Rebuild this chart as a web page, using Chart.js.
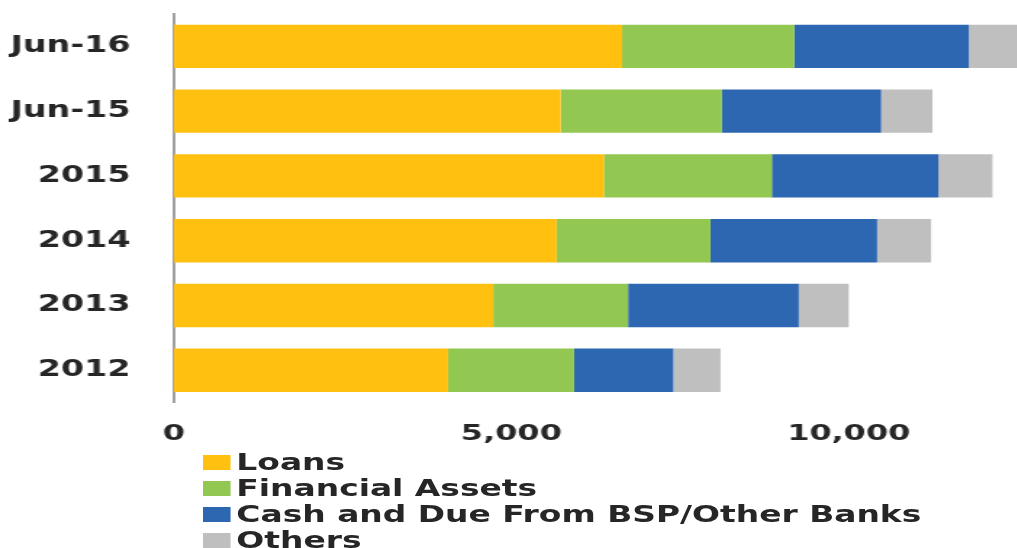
<!DOCTYPE html>
<html>
<head>
<meta charset="utf-8">
<script src="https://cdn.jsdelivr.net/npm/chart.js@4.4.0/dist/chart.umd.min.js"></script>
<style>
  html, body { margin: 0; padding: 0; background: #fff; overflow: hidden; }
  #frame { width: 1017px; height: 548px; overflow: hidden; position: relative; }
  /* the source picture is stretched sideways, so the whole chart is too */
  #stretch { position: absolute; left: 0; top: 0; width: 818px; transform: scaleX(1.45); transform-origin: 0 0; }
  #myChart { display: block; }
  #legend { position: absolute; left: 140px; top: 449px; font: bold 22.7px "DejaVu Sans"; color: #262626; }
  .item { height: 26px; display: flex; align-items: center; white-space: nowrap; }
  .swatch { width: 19px; height: 15px; margin-right: 4px; flex: none; }
</style>
</head>
<body>
<div id="frame">
  <div id="stretch">
    <canvas id="myChart" width="818" height="469" style="width:818px;height:469px"></canvas>
    <div id="legend"></div>
  </div>
</div>
<script>
const categories = ["Jun-16", "Jun-15", "2015", "2014", "2013", "2012"];
const loans = [6640, 5730, 6370, 5670, 4730, 4060];
const financialAssets = [2550, 2390, 2490, 2280, 2000, 1870];
const cashAndDue = [2590, 2360, 2470, 2470, 2530, 1470];
const others = [800, 760, 800, 800, 740, 700];
const xTicks = [0, 5000, 10000, 15000];

const seriesNames = ["Loans", "Financial Assets", "Cash and Due From BSP/Other Banks", "Others"];
const seriesColors = ["#FFC010", "#92C852", "#2E67B1", "#BFBFBF"];

const myChart = document.getElementById("myChart");
const legendBox = document.getElementById("legend");

const datasets = [loans, financialAssets, cashAndDue, others].map((data, i) => ({
  label: seriesNames[i],
  data,
  backgroundColor: seriesColors[i],
  borderWidth: 0,
  barPercentage: 1,
  categoryPercentage: 0.67,
}));

const chart = new Chart(myChart, {
  type: "bar",
  data: { labels: categories, datasets },
  options: {
    indexAxis: "y",
    responsive: false,
    animation: false,
    layout: { padding: { top: 14, bottom: 4, left: 0, right: 0 } },
    plugins: { legend: { display: false }, tooltip: { enabled: false } },
    scales: {
      x: {
        stacked: true,
        min: 0,
        max: 15000,
        afterBuildTicks: (scale) => { scale.ticks = xTicks.map((v) => ({ value: v })); },
        afterFit: (scale) => { scale.paddingLeft = 0; scale.paddingRight = 0; },
        grid: { display: false, drawTicks: false },
        border: { display: false },
        ticks: {
          padding: 18,
          color: "#262626",
          font: { family: "DejaVu Sans", weight: "bold", size: 22 },
          maxRotation: 0,
          callback: (v) => Number(v).toLocaleString("en-US"),
        },
      },
      y: {
        stacked: true,
        afterFit: (scale) => { scale.width = 120; scale.paddingTop = 0; scale.paddingBottom = 0; },
        grid: { display: false, drawTicks: false },
        border: { display: true, color: "#A0A0A0", width: 2 },
        ticks: { padding: 30, color: "#262626", font: { family: "DejaVu Sans", weight: "bold", size: 23 } },
      },
    },
  },
});

// legend listed one per line under the axis
chart.data.datasets.forEach((ds) => {
  const row = document.createElement("div");
  row.className = "item";
  row.innerHTML = `<span class="swatch" style="background:${ds.backgroundColor}"></span><span>${ds.label}</span>`;
  legendBox.appendChild(row);
});
</script>
</body>
</html>
